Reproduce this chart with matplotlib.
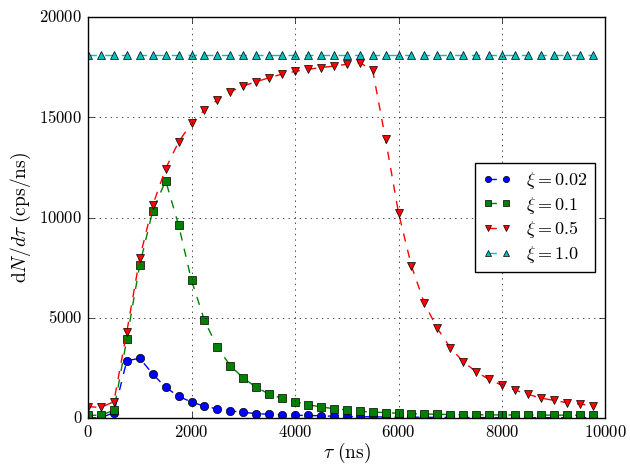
import numpy as np
import matplotlib
matplotlib.use('Agg')
from matplotlib import pyplot as plt

plt.style.use('classic')
plt.rcParams['font.family'] = 'serif'
plt.rcParams['font.serif'] = ['cmr10', 'DejaVu Serif']
plt.rcParams['mathtext.fontset'] = 'cm'
plt.rcParams['axes.unicode_minus'] = False
plt.rcParams['axes.formatter.use_mathtext'] = True

tau = np.arange(0, 10000, 250)

rate_002 = [20, 30, 280, 2870, 2990, 2210, 1545, 1095, 810, 600,
            465, 365, 300, 230, 200, 165, 150, 140, 125, 100,
            90, 80, 72, 65, 60, 55, 50, 46, 43, 40,
            38, 36, 34, 33, 32, 31, 30, 30, 29, 28]
rate_01 = [150, 150, 400, 3940, 7655, 10330, 11840, 9630, 6875, 4880,
           3540, 2620, 2010, 1545, 1210, 990, 830, 680, 565, 480,
           415, 350, 315, 280, 250, 230, 215, 200, 185, 180,
           175, 170, 168, 165, 162, 160, 157, 155, 152, 150]
rate_05 = [580, 540, 830, 4315, 7990, 10610, 12440, 13770, 14700, 15360,
           15860, 16270, 16560, 16770, 16970, 17150, 17280, 17390, 17470, 17550,
           17640, 17720, 17350, 13900, 10245, 7590, 5730, 4480, 3520, 2820,
           2320, 1940, 1640, 1410, 1195, 1010, 895, 780, 710, 630]
rate_10 = [18100] * len(tau)

fig = plt.figure(figsize=(6.3, 4.67), dpi=100, facecolor='white')
ax = fig.add_axes([0.1397, 0.1043, 0.8214, 0.8595])

ax.plot(tau, rate_002, 'bo--', label=r'$\xi = 0.02$')
ax.plot(tau, rate_01, 'gs--', label=r'$\xi = 0.1$')
ax.plot(tau, rate_05, 'rv--', label=r'$\xi = 0.5$')
ax.plot(tau, rate_10, 'c^--', label=r'$\xi = 1.0$')

ax.set_xlim(0, 10000)
ax.set_ylim(0, 20000)
ax.grid(True)

ax.set_xlabel(r'$\tau\ (\mathrm{ns})$', fontsize=14, labelpad=1)
ax.set_ylabel(r'$\mathrm{d}N/d\tau\ (\mathrm{cps/ns})$', fontsize=14)
ax.legend(loc='center right', fontsize=13, labelspacing=0.2,
          handlelength=1.6, markerscale=0.75, borderaxespad=0.6)

fig.savefig('out.png', dpi=100, facecolor='white')
